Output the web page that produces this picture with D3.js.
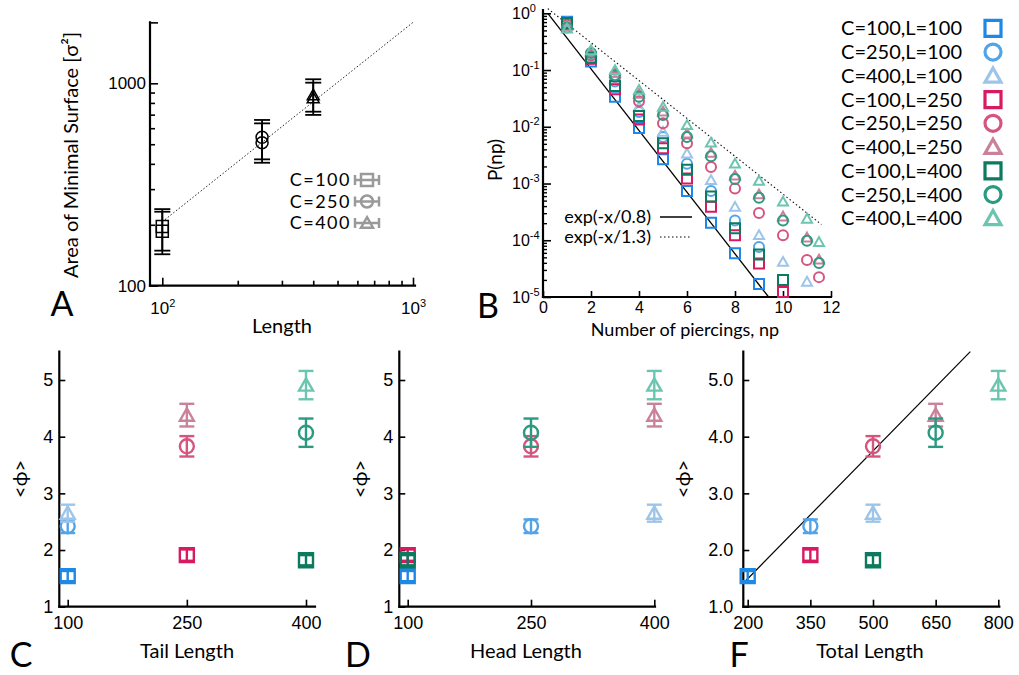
<!DOCTYPE html>
<html><head><meta charset="utf-8">
<script src="https://cdn.jsdelivr.net/npm/d3@7"></script>
<style>
body{margin:0;background:#fff;}
svg{display:block;font-family:Lato,'Open Sans','DejaVu Sans',sans-serif;}
</style></head><body>
<svg id="chart" width="1019" height="675"></svg>
<script>
// ===== Panel A data: area of minimal surface vs length =====
const areaLengths = [100, 250, 400];
const areaShapes = ["square", "circle", "triangle"];
const areaMeanA = [186, 509, 845];
const areaLowA  = [143, 405, 698];
const areaHighA = [232, 634, 1007];
const areaMeanB = [196, 541, 875];
const areaLowB  = [149, 421, 724];
const areaHighB = [239, 659, 1047];
const areaLegend = ["C=100", "C=250", "C=400"];
const areaFit = [[100, 207], [1000, 2000]];
const areaXTicks = [100, 1000];
const areaYTicks = [100, 1000];

// ===== Series (panels B, C, D, F) =====
const seriesLabels = ["C=100,L=100","C=250,L=100","C=400,L=100","C=100,L=250","C=250,L=250","C=400,L=250","C=100,L=400","C=250,L=400","C=400,L=400"];
const seriesC = [100, 250, 400, 100, 250, 400, 100, 250, 400];
const seriesL = [100, 100, 100, 250, 250, 250, 400, 400, 400];
const seriesShapes = ["square","circle","triangle","square","circle","triangle","square","circle","triangle"];
const seriesColors = ["#1e88e5","#52a4e8","#9dc5ea","#d81b60","#d6557f","#c9829a","#0b7a5f","#2a9a80","#6cc5b0"];

// ===== Panel B data: P(np) =====
const np9  = [1,2,3,4,5,6,7,8,9];
const np10 = [1,2,3,4,5,6,7,8,9,10];
const np11 = [1,2,3,4,5,6,7,8,9,10,11];
const np12 = [1,2,3,4,5,6,7,8,9,10,11,11.5];
const pC100L100 = [0.708,0.141,0.0339,0.00955,0.00269,7.41e-4,2.04e-4,5.89e-5,1.70e-5];
const pC250L100 = [0.692,0.158,0.0631,0.0182,0.00661,0.00224,7.41e-4,2.24e-4,7.59e-5];
const pC400L100 = [0.661,0.174,0.0708,0.0224,0.00813,0.00339,0.00115,3.89e-4,1.23e-4,4.17e-5,1.86e-5];
const pC100L250 = [0.676,0.158,0.0457,0.0135,0.00417,0.00123,3.89e-4,1.23e-4,3.89e-5,1.23e-5];
const pC250L250 = [0.631,0.182,0.0759,0.0282,0.0115,0.00513,0.00195,8.13e-4,3.02e-4,1.23e-4,4.47e-5,2.24e-5];
const pC400L250 = [0.603,0.209,0.0891,0.0380,0.0186,0.00759,0.00347,0.00138,6.46e-4,2.63e-4,1.12e-4,4.57e-5];
const pC100L400 = [0.661,0.166,0.0525,0.0155,0.00513,0.00174,5.89e-4,1.62e-4,5.62e-5,2.0e-5];
const pC250L400 = [0.562,0.200,0.0813,0.0339,0.0162,0.00661,0.00302,0.00120,5.62e-4,2.24e-4,9.77e-5,3.98e-5];
const pC400L400 = [0.537,0.224,0.100,0.0447,0.0224,0.0107,0.00525,0.00224,0.00112,4.79e-4,2.40e-4,9.33e-5];
const seriesNp = [np9, np9, np11, np10, np12, np12, np10, np12, np12];
const seriesP = [pC100L100,pC250L100,pC400L100,pC100L250,pC250L250,pC400L250,pC100L400,pC250L400,pC400L400];
const fitSolid = [[0.2, 1.0], [9.4, 1e-5]];
const fitDotted = [[0.2, 1.21], [11.6, 1.9e-4]];
const fitLabels = ["exp(-x/0.8)", "exp(-x/1.3)"];
const npTicks = [0,2,4,6,8,10,12];
const pTicks = [1e-5,1e-4,1e-3,1e-2,1e-1,1];

// ===== Panels C, D, F data: <phi> =====
const phiMean = [1.54, 2.42, 2.65, 1.91, 3.83, 4.38, 1.82, 4.07, 4.91];
const phiErr  = [0.09, 0.12, 0.15, 0.10, 0.18, 0.20, 0.09, 0.25, 0.25];
const phiTicks = [1,2,3,4,5];
const tailTicks = [100,250,400];
const totalTicks = [200,350,500,650,800];
const totalFit = [[193, 1.44], [733, 5.5]];

// ================= drawing =================
const svg = d3.select("#chart");
svg.append("rect").attr("width",1019).attr("height",675).attr("fill","#fff");

function markerPath(shape, s){
  const h = s/2;
  if (shape === "square") return `M${-h},${-h}H${h}V${h}H${-h}Z`;
  if (shape === "circle") return `M${h},0A${h},${h} 0 1,1 ${-h},0A${h},${h} 0 1,1 ${h},0Z`;
  const th = s*0.88;
  return `M0,${-th*0.55}L${h},${th*0.45}L${-h},${th*0.45}Z`;
}
function styleAxis(g, sw){
  g.select(".domain").remove();
  g.selectAll(".tick line").attr("stroke","#000").attr("stroke-width",sw);
  g.selectAll(".tick text").attr("fill","#000");
}
function axisLine(g, x1,y1,x2,y2){
  g.append("line").attr("x1",x1).attr("y1",y1).attr("x2",x2).attr("y2",y2)
    .attr("stroke","#000").attr("stroke-width",2.2).attr("stroke-linecap","square");
}
function supLabels(g, size, supSize, rise){
  g.selectAll(".tick text").text(null).each(function(d){
    const t = d3.select(this);
    t.append("tspan").text("10");
    t.append("tspan").attr("font-size",supSize).attr("dy",-rise).text(Math.round(Math.log10(d)));
  }).attr("font-size",size);
}
function panelLetter(txt, x, y){
  svg.append("text").attr("x",x).attr("y",y).attr("font-size",34).attr("text-anchor","middle").text(txt);
}

// ---------- Panel A ----------
{
  const xA = d3.scaleLog().domain([100,1000]).range([162.3,413]);
  const yA = d3.scaleLog().domain([100,1000]).range([285.7,83.3]);
  const g = svg.append("g");
  const xMinor = d3.range(2,10).map(k=>k*100);
  const yMinor = d3.range(2,10).map(k=>k*100);
  g.append("g").attr("transform",`translate(0,${yA(100)})`)
    .call(d3.axisBottom(xA).tickValues(xMinor).tickSize(-5).tickFormat("")).call(styleAxis,1.6);
  g.append("g").attr("transform",`translate(0,${yA(100)})`)
    .call(d3.axisBottom(xA).tickValues(areaXTicks).tickSize(-8).tickPadding(16))
    .call(styleAxis,1.6).call(gg=>supLabels(gg,17,11,7));
  g.append("g").attr("transform",`translate(150,0)`)
    .call(d3.axisLeft(yA).tickValues(yMinor).tickSize(-5).tickFormat("")).call(styleAxis,1.6);
  g.append("g").attr("transform",`translate(150,0)`)
    .call(d3.axisLeft(yA).tickValues(areaYTicks.concat([2000])).tickSize(-8).tickPadding(4)
      .tickFormat(d=> d===2000 ? "" : d3.format("d")(d)))
    .call(styleAxis,1.6).call(gg=>gg.selectAll(".tick text").attr("font-size",17));
  axisLine(g,150,yA(100),415,yA(100));
  axisLine(g,150,yA(100),150,yA(2000));
  g.append("path").datum(areaFit)
    .attr("d", d3.line().x(d=>xA(d[0])).y(d=>yA(d[1])))
    .attr("fill","none").attr("stroke","#222").attr("stroke-width",1).attr("stroke-dasharray","1.5,2");
  [[areaMeanA,areaLowA,areaHighA],[areaMeanB,areaLowB,areaHighB]].forEach(([m,lo,hi])=>{
    areaLengths.forEach((L,i)=>{
      const cx = xA(L);
      g.append("line").attr("x1",cx).attr("x2",cx).attr("y1",yA(lo[i])).attr("y2",yA(hi[i]))
        .attr("stroke","#000").attr("stroke-width",1.8);
      [lo[i],hi[i]].forEach(v=>g.append("line").attr("x1",cx-8).attr("x2",cx+8)
        .attr("y1",yA(v)).attr("y2",yA(v)).attr("stroke","#000").attr("stroke-width",1.8));
      g.append("path").attr("transform",`translate(${cx},${yA(m[i])})`)
        .attr("d",markerPath(areaShapes[i],12)).attr("fill","none").attr("stroke","#000").attr("stroke-width",1.5);
    });
  });
  areaLegend.forEach((lab,i)=>{
    const yy = 180 + i*21.5;
    g.append("text").attr("x",351).attr("y",yy).attr("dy","0.35em").attr("text-anchor","end")
      .attr("font-size",18).attr("letter-spacing",1.5).text(lab);
    const cx = 367;
    g.append("line").attr("x1",cx-12).attr("x2",cx+12).attr("y1",yy).attr("y2",yy).attr("stroke","#9a9a9a").attr("stroke-width",2.5);
    [cx-12,cx+12].forEach(x=>g.append("line").attr("x1",x).attr("x2",x).attr("y1",yy-5).attr("y2",yy+5).attr("stroke","#9a9a9a").attr("stroke-width",2.5));
    g.append("path").attr("transform",`translate(${cx},${yy})`).attr("d",markerPath(areaShapes[i],12))
      .attr("fill","none").attr("stroke","#9a9a9a").attr("stroke-width",2.5);
  });
  g.append("text").attr("x",282).attr("y",333).attr("text-anchor","middle").attr("font-size",20).text("Length");
  g.append("text").attr("transform","translate(78,155) rotate(-90)").attr("text-anchor","middle")
    .attr("font-size",20).text("Area of Minimal Surface [σ²]");
  panelLetter("A",62,316);
}

// ---------- Panel B ----------
{
  const xB = d3.scaleLinear().domain([0,12]).range([543,831]);
  const yB = d3.scaleLog().domain([1e-5,1]).range([297,13.3]);
  const g = svg.append("g");
  const minor = [];
  for (let e=-5; e<0; e++) for (let k=2;k<10;k++) minor.push(k*Math.pow(10,e));
  g.append("g").attr("transform","translate(543,0)")
    .call(d3.axisLeft(yB).tickValues(minor).tickSize(-4).tickFormat("")).call(styleAxis,1.4);
  g.append("g").attr("transform","translate(543,0)")
    .call(d3.axisLeft(yB).tickValues(pTicks).tickSize(-8).tickPadding(4))
    .call(styleAxis,1.6).call(gg=>{ supLabels(gg,16,11,7); gg.selectAll(".tick text").attr("text-anchor","start").attr("x",-31); });
  g.append("g").attr("transform","translate(0,297)")
    .call(d3.axisBottom(xB).tickValues(npTicks).tickSize(-6).tickPadding(5).tickFormat(d3.format("d")))
    .call(styleAxis,1.6).call(gg=>gg.selectAll(".tick text").attr("font-size",16));
  axisLine(g,543,297,831,297);
  axisLine(g,543,297,543,10);
  const line = d3.line().x(d=>xB(d[0])).y(d=>yB(d[1]));
  g.append("path").datum(fitSolid).attr("d",line).attr("fill","none").attr("stroke","#000").attr("stroke-width",1.3);
  g.append("path").datum(fitDotted).attr("d",line).attr("fill","none").attr("stroke","#111").attr("stroke-width",1.1).attr("stroke-dasharray","1.5,2.5");
  seriesP.forEach((ps,si)=>{
    g.append("g").selectAll("path").data(ps.map((p,j)=>[seriesNp[si][j],p])).join("path")
      .attr("transform",d=>`translate(${xB(d[0])},${yB(d[1])})`)
      .attr("d",markerPath(seriesShapes[si],10))
      .attr("fill","none").attr("stroke",seriesColors[si]).attr("stroke-width",2);
  });
  fitLabels.forEach((lab,i)=>{
    const yy = 217 + i*20;
    g.append("text").attr("x",651).attr("y",yy).attr("dy","0.35em").attr("text-anchor","end").attr("font-size",18).text(lab);
    const l = g.append("line").attr("x1",660).attr("x2",692).attr("y1",yy).attr("y2",yy).attr("stroke","#000");
    if (i===0) l.attr("stroke-width",1.5); else l.attr("stroke-width",1.1).attr("stroke-dasharray","1.5,2.5");
  });
  g.append("text").attr("x",685).attr("y",336).attr("text-anchor","middle").attr("font-size",18).text("Number of piercings, np");
  g.append("text").attr("transform","translate(502,160) rotate(-90)").attr("text-anchor","middle").attr("font-size",19).text("P(np)");
  seriesLabels.forEach((lab,i)=>{
    const yy = 28.3 + i*23.75;
    g.append("text").attr("x",962).attr("y",yy).attr("dy","0.35em").attr("text-anchor","end").attr("font-size",20).text(lab);
    g.append("path").attr("transform",`translate(993,${yy})`).attr("d",markerPath(seriesShapes[i],16))
      .attr("fill","none").attr("stroke",seriesColors[i]).attr("stroke-width",3.2);
  });
  panelLetter("B",488,318);
}

// ---------- Panels C, D, F ----------
function phiPanel(opts){
  const g = svg.append("g");
  const x = d3.scaleLinear().domain(opts.xDom).range(opts.xRange);
  const y = d3.scaleLinear().domain([1,5]).range([606.7,380]);
  g.append("g").attr("transform",`translate(${opts.axisX},0)`)
    .call(d3.axisLeft(y).tickValues(phiTicks).tickSize(-6).tickPadding(opts.yPad).tickFormat(opts.yFmt))
    .call(styleAxis,1.6).call(gg=>gg.selectAll(".tick text").attr("font-size",18));
  g.append("g").attr("transform","translate(0,606.7)")
    .call(d3.axisBottom(x).tickValues(opts.xTicks).tickSize(-7).tickPadding(10).tickFormat(d3.format("d")))
    .call(styleAxis,1.6).call(gg=>gg.selectAll(".tick text").attr("font-size",18));
  axisLine(g,opts.axisX,606.7,opts.axisEnd,606.7);
  axisLine(g,opts.axisX,606.7,opts.axisX,y(5.5));
  if (opts.fit){
    g.append("path").datum(opts.fit).attr("d",d3.line().x(d=>x(d[0])).y(d=>y(d[1])))
      .attr("fill","none").attr("stroke","#000").attr("stroke-width",1.2);
  }
  phiMean.forEach((m,i)=>{
    const cx = x(opts.xVal(i)), col = seriesColors[i];
    g.append("line").attr("x1",cx).attr("x2",cx).attr("y1",y(m-phiErr[i])).attr("y2",y(m+phiErr[i]))
      .attr("stroke",col).attr("stroke-width",2.4);
    [m-phiErr[i], m+phiErr[i]].forEach(v=>g.append("line").attr("x1",cx-7.5).attr("x2",cx+7.5)
      .attr("y1",y(v)).attr("y2",y(v)).attr("stroke",col).attr("stroke-width",2.4));
    g.append("path").attr("transform",`translate(${cx},${y(m)})`).attr("d",markerPath(seriesShapes[i],14))
      .attr("fill","none").attr("stroke",col).attr("stroke-width",2.4);
  });
  g.append("text").attr("x",opts.titleX).attr("y",658).attr("text-anchor","middle").attr("font-size",20).text(opts.title);
  g.append("text").attr("transform",`translate(${opts.phiX},479) rotate(-90)`).attr("text-anchor","middle")
    .attr("dy","0.35em").attr("font-size",20).text("<ϕ>");
  panelLetter(opts.letter, opts.letterX, 667);
}
phiPanel({xDom:[100,400], xRange:[67.7,306], axisX:59.3, axisEnd:315, xTicks:tailTicks,
  xVal:i=>seriesL[i], yPad:6, yFmt:d3.format("d"), title:"Tail Length", titleX:187, phiX:20, letter:"C", letterX:21});
phiPanel({xDom:[100,400], xRange:[407.7,654.3], axisX:399.3, axisEnd:655, xTicks:tailTicks,
  xVal:i=>seriesC[i], yPad:6, yFmt:d3.format("d"), title:"Head Length", titleX:526, phiX:360, letter:"D", letterX:358});
phiPanel({xDom:[200,800], xRange:[747.7,998.3], axisX:743.3, axisEnd:999.3, xTicks:totalTicks,
  xVal:i=>seriesC[i]+seriesL[i], yPad:10, yFmt:d3.format(".1f"), title:"Total Length", titleX:870, phiX:683,
  letter:"F", letterX:739, fit:totalFit});
</script>
</body></html>
